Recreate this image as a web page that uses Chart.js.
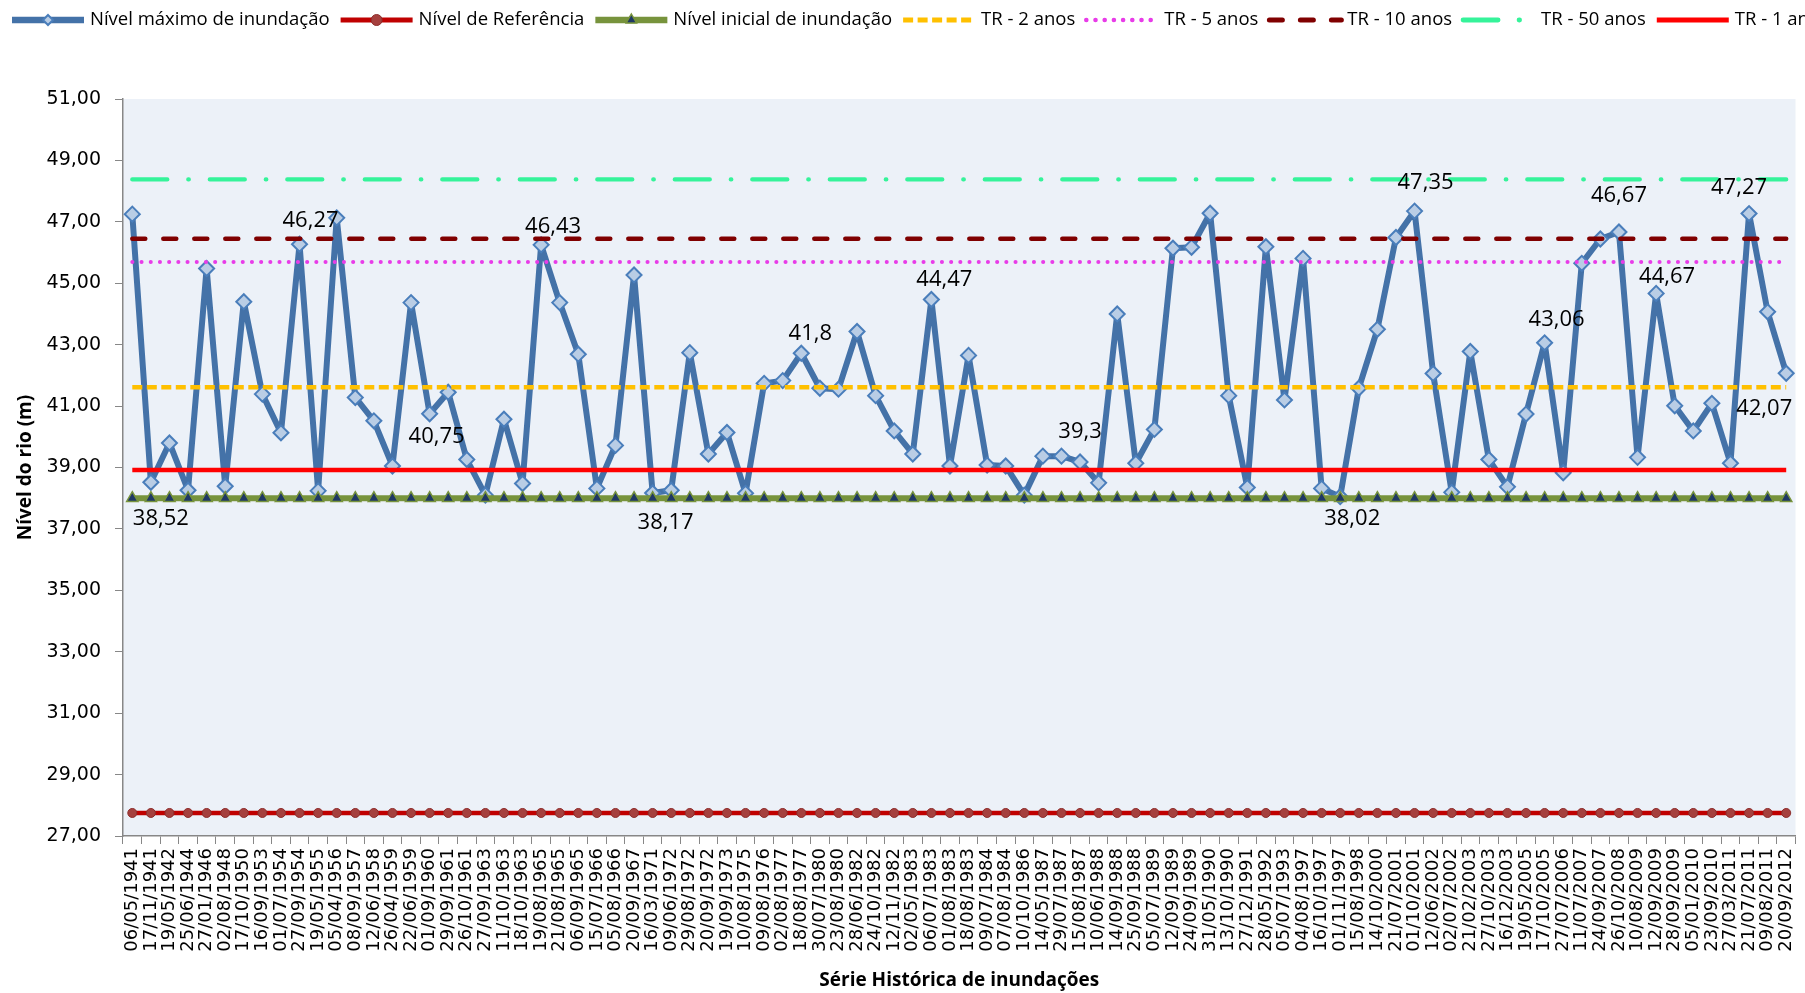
<!DOCTYPE html>
<html lang="pt">
<head>
<meta charset="utf-8">
<title>Série Histórica de inundações</title>
<script src="https://cdn.jsdelivr.net/npm/chart.js@4.4.1/dist/chart.umd.min.js"></script>
<style>
	html, body { margin: 0; padding: 0; background: #fff; }
	#grafica { display: block; }
</style>
</head>
<body>
<canvas id="grafica" width="1805" height="993"></canvas>
<script>
// datas das cheias (eixo x)
const datas = [
	"06/05/1941", "17/11/1941", "19/05/1942", "25/06/1944", "27/01/1946", "02/08/1948",
	"17/10/1950", "16/09/1953", "01/07/1954", "27/09/1954", "19/05/1955", "05/04/1956",
	"08/09/1957", "12/06/1958", "26/04/1959", "22/06/1959", "01/09/1960", "29/09/1961",
	"26/10/1961", "27/09/1963", "11/10/1963", "18/10/1963", "19/08/1965", "21/08/1965",
	"06/09/1965", "15/07/1966", "05/08/1966", "20/09/1967", "16/03/1971", "09/06/1972",
	"29/08/1972", "20/09/1972", "19/09/1973", "10/08/1975", "09/08/1976", "02/08/1977",
	"18/08/1977", "30/07/1980", "23/08/1980", "28/06/1982", "24/10/1982", "12/11/1982",
	"02/05/1983", "06/07/1983", "01/08/1983", "18/08/1983", "09/07/1984", "07/08/1984",
	"10/10/1986", "14/05/1987", "29/07/1987", "15/08/1987", "10/06/1988", "14/09/1988",
	"25/09/1988", "05/07/1989", "12/09/1989", "24/09/1989", "31/05/1990", "13/10/1990",
	"27/12/1991", "28/05/1992", "05/07/1993", "04/08/1997", "16/10/1997", "01/11/1997",
	"15/08/1998", "14/10/2000", "21/07/2001", "01/10/2001", "12/06/2002", "02/07/2002",
	"21/02/2003", "27/10/2003", "16/12/2003", "19/05/2005", "17/10/2005", "27/07/2006",
	"11/07/2007", "24/09/2007", "26/10/2008", "10/08/2009", "12/09/2009", "28/09/2009",
	"05/01/2010", "23/09/2010", "27/03/2011", "21/07/2011", "09/08/2011", "20/09/2012",
];

// nível máximo de cada cheia (m)
const nivelMaximo = [
	47.25, 38.52, 39.80, 38.26, 45.48, 38.39, 44.40, 41.39, 40.13, 46.27,
	38.24, 47.13, 41.28, 40.52, 39.05, 44.37, 40.75, 41.45, 39.26, 38.10,
	40.57, 38.48, 46.25, 44.37, 42.69, 38.32, 39.72, 45.27, 38.17, 38.26,
	42.74, 39.44, 40.14, 38.16, 41.74, 41.83, 42.72, 41.58, 41.55, 43.43,
	41.34, 40.19, 39.44, 44.47, 39.05, 42.65, 39.08, 39.05, 38.10, 39.37,
	39.37, 39.18, 38.50, 44.00, 39.14, 40.24, 46.14, 46.17, 47.28, 41.34,
	38.35, 46.19, 41.20, 45.81, 38.32, 38.05, 41.58, 43.50, 46.49, 47.35,
	42.06, 38.19, 42.78, 39.26, 38.37, 40.74, 43.06, 38.83, 45.65, 46.44,
	46.67, 39.33, 44.67, 41.01, 40.19, 41.09, 39.14, 47.27, 44.07, 42.07,
];

// níveis constantes (m)
const nivelReferencia = 27.75;
const nivelInicial = 38.0;
const tr2 = 41.61;
const tr5 = 45.69;
const tr10 = 46.45;
const tr50 = 48.38;
const tr1 = 38.92;

const yTicks = ["27,00", "29,00", "31,00", "33,00", "35,00", "37,00", "39,00",
	"41,00", "43,00", "45,00", "47,00", "49,00", "51,00"];

// rótulos de dados escritos no gráfico
const rotulosIndice = [1, 9, 16, 22, 28, 36, 43, 51, 65, 69, 76, 80, 82, 87, 89];
const rotulosTexto = ["38,52", "46,27", "40,75", "46,43", "38,17", "41,8", "44,47", "39,3",
	"38,02", "47,35", "43,06", "46,67", "44,67", "47,27", "42,07"];

(function () {
	const ctx = document.getElementById("grafica");
	const constante = (v) => datas.map(() => v);

	// deslocamento de cada rótulo em relação ao ponto (px)
	const deslocRotulos = [[10, 36], [11, -24], [7, 23], [12, -18], [13, 30], [9, -20], [13, -20],
		[0, -30], [12, 22], [11, -28], [12, -23], [0, -36], [11, -17], [-10, -26], [-22, 36]];

	function marcador(c, estilo, x, y, r) {
		c.beginPath();
		if (estilo === "rectRot") {
			c.moveTo(x, y - r); c.lineTo(x + r, y); c.lineTo(x, y + r); c.lineTo(x - r, y);
			c.closePath();
		} else if (estilo === "triangle") {
			c.moveTo(x, y - r); c.lineTo(x + r * 0.866, y + r * 0.5); c.lineTo(x - r * 0.866, y + r * 0.5);
			c.closePath();
		} else {
			c.arc(x, y, r, 0, Math.PI * 2);
		}
		c.fill();
		c.stroke();
	}

	const fundo = {
		id: "fundo",
		beforeDraw(chart) {
			const { ctx: c, chartArea: a } = chart;
			c.save();
			c.fillStyle = "#ffffff";
			c.fillRect(0, 0, chart.width, chart.height);
			c.fillStyle = "#ECF1F8";
			c.fillRect(a.left, a.top, a.right - a.left, a.bottom - a.top);
			c.restore();
		},
	};

	const rotulos = {
		id: "rotulos",
		afterDatasetsDraw(chart) {
			const c = chart.ctx;
			const pts = chart.getDatasetMeta(0).data;
			c.save();
			c.font = "22px 'Open Sans'";
			c.fillStyle = "#000";
			c.textAlign = "center";
			c.textBaseline = "middle";
			rotulosIndice.forEach((i, k) => {
				const p = pts[i];
				c.fillText(rotulosTexto[k], p.x + deslocRotulos[k][0], p.y + deslocRotulos[k][1]);
			});
			c.restore();
		},
	};

	const legenda = {
		id: "legenda",
		afterDraw(chart) {
			const c = chart.ctx;
			const y = 20;
			let x = 12;
			c.save();
			c.font = "18.5px 'Open Sans'";
			c.textBaseline = "middle";
			c.textAlign = "left";
			chart.data.datasets.forEach((ds) => {
				c.save();
				c.strokeStyle = ds.borderColor;
				c.lineWidth = ds.borderWidth + 0.5;
				c.lineCap = ds.borderCapStyle || "butt";
				c.setLineDash(ds.borderDash || []);
				c.beginPath();
				c.moveTo(x, y);
				c.lineTo(x + 72, y);
				c.stroke();
				c.setLineDash([]);
				if (ds.pointRadius > 0) {
					c.fillStyle = ds.pointBackgroundColor;
					c.strokeStyle = ds.pointBorderColor;
					c.lineWidth = ds.pointBorderWidth;
					marcador(c, ds.pointStyle, x + 36, y, ds.legendRadius);
				}
				c.restore();
				c.fillStyle = "#000";
				c.fillText(ds.label, x + 78, y);
				x += 78 + c.measureText(ds.label).width + 11;
			});
			c.restore();
		},
	};

	const linha = (label, valor, cor, largura, traco, cap, ordem) => ({
		label,
		data: constante(valor),
		borderColor: cor,
		borderWidth: largura,
		borderDash: traco,
		borderCapStyle: cap,
		pointRadius: 0,
		order: ordem,
	});

	new Chart(ctx, {
		type: "line",
		data: {
			labels: datas,
			datasets: [
				{
					label: "Nível máximo de inundação",
					data: nivelMaximo,
					borderColor: "#4472A8",
					borderWidth: 6,
					borderJoinStyle: "round",
					pointStyle: "rectRot",
					pointRadius: 7.5,
					legendRadius: 5,
					pointBackgroundColor: "#B9CDE5",
					pointBorderColor: "#4A7EBB",
					pointBorderWidth: 2,
					order: 8,
				},
				{
					label: "Nível de Referência",
					data: constante(nivelReferencia),
					borderColor: "#C00000",
					borderWidth: 4.5,
					pointStyle: "circle",
					pointRadius: 4.5,
					legendRadius: 5.5,
					pointBackgroundColor: "#A5403E",
					pointBorderColor: "#8E2E2C",
					pointBorderWidth: 1,
					order: 7,
				},
				{
					label: "Nível inicial de inundação",
					data: constante(nivelInicial),
					borderColor: "#77933C",
					borderWidth: 6,
					pointStyle: "triangle",
					pointRadius: 6.5,
					legendRadius: 6,
					pointBackgroundColor: "#1F3864",
					pointBorderColor: "#77933C",
					pointBorderWidth: 1.5,
					order: 6,
				},
				linha("TR - 2 anos", tr2, "#FFC000", 4.5, [10, 4.5], "butt", 5),
				linha("TR - 5 anos", tr5, "#E83CE8", 4, [0.1, 9.1], "round", 4),
				linha("TR - 10 anos", tr10, "#800000", 4.5, [13, 18], "round", 3),
				linha("TR - 50 anos", tr50, "#35F39A", 4.3, [35, 21, 0.5, 21], "round", 2),
				linha("TR - 1 anos", tr1, "#FF0000", 4.5, [], "butt", 1),
			],
		},
		options: {
			responsive: false,
			devicePixelRatio: 1,
			animation: false,
			layout: { padding: { top: 99, right: 7, bottom: 0, left: 0 } },
			elements: { line: { tension: 0 } },
			plugins: {
				legend: { display: false },
				tooltip: { enabled: false },
			},
			scales: {
				x: {
					offset: true,
					grid: {
						offset: true,
						drawOnChartArea: false,
						tickLength: 8,
						color: "#878787",
					},
					border: { color: "#878787", width: 1.5 },
					ticks: {
						autoSkip: false,
						maxRotation: 90,
						minRotation: 90,
						padding: 4,
						color: "#000",
						font: { family: "'DejaVu Sans'", size: 18 },
					},
					title: {
						display: true,
						text: "Série Histórica de inundações",
						color: "#000",
						font: { family: "'Open Sans'", size: 19, weight: "bold" },
						padding: { top: 0, bottom: 1 },
					},
					afterFit(scale) {
						scale.height = 157;
						scale.paddingLeft = 0;
						scale.paddingRight = 0;
					},
				},
				y: {
					min: 27,
					max: 51,
					grid: {
						drawOnChartArea: false,
						tickLength: 8,
						color: "#878787",
					},
					border: { color: "#878787", width: 1.5 },
					ticks: {
						stepSize: 2,
						padding: 14,
						color: "#000",
						font: { family: "'DejaVu Sans'", size: 19 },
						callback: (v, i) => yTicks[i],
					},
					title: {
						display: true,
						text: "Nível do rio (m)",
						color: "#000",
						font: { family: "'Open Sans'", size: 19, weight: "bold" },
						padding: { top: 14, bottom: 0 },
					},
					afterFit(scale) {
						scale.width = 123;
						scale.paddingTop = 0;
						scale.paddingBottom = 0;
					},
				},
			},
		},
		plugins: [fundo, rotulos, legenda],
	});
})();
</script>
</body>
</html>
